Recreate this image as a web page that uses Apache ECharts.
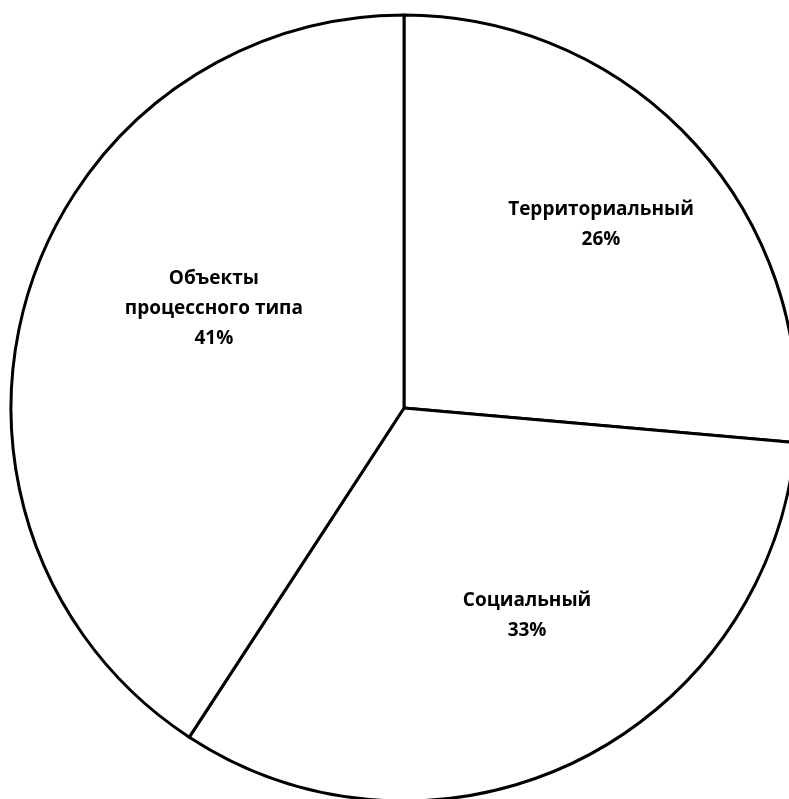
<!DOCTYPE html>
<html><head><meta charset="utf-8">
<script src="https://cdn.jsdelivr.net/npm/echarts@6/dist/echarts.min.js"></script>
<style>html,body{margin:0;padding:0;background:#fff}#c{width:789px;height:799px}</style>
</head><body><div id="c"></div>
<script>
const categories = ['Территориальный', 'Социальный', 'Объекты\nпроцессного типа'];
const values = [26.4, 32.8, 40.8];

const chart = echarts.init(document.getElementById('c'), null, { renderer: 'canvas' });
const fmt = p => p.name + '\n' + Math.round(p.percent) + '%';
// label nudges (layout, not data)
const labelNudge = [[13, -15], [14, -17], [49, -28]];
const baseData = categories.map((n, i) => ({ name: n, value: values[i] }));
const labelData = categories.map((n, i) => ({ name: n, value: values[i], label: { offset: labelNudge[i] } }));
chart.setOption({
  backgroundColor: '#ffffff',
  animation: false,
  series: [{
    type: 'pie',
    center: [404, 408],
    radius: [0, 393],
    startAngle: 90,
    clockwise: true,
    silent: true,
    data: baseData,
    itemStyle: { color: '#ffffff', borderColor: '#000000', borderWidth: 3 },
    label: { show: false },
    labelLine: { show: false }
  }, {
    type: 'pie',
    center: [404, 408],
    radius: [100, 393],
    startAngle: 90,
    clockwise: true,
    silent: true,
    data: labelData,
    itemStyle: { color: 'rgba(0,0,0,0)', borderWidth: 0 },
    label: {
      show: true, position: 'inside', formatter: fmt,
      fontFamily: 'Open Sans', fontWeight: 'bold', fontSize: 19,
      lineHeight: 30, color: '#000'
    },
    labelLine: { show: false }
  }]
});
</script></body></html>
